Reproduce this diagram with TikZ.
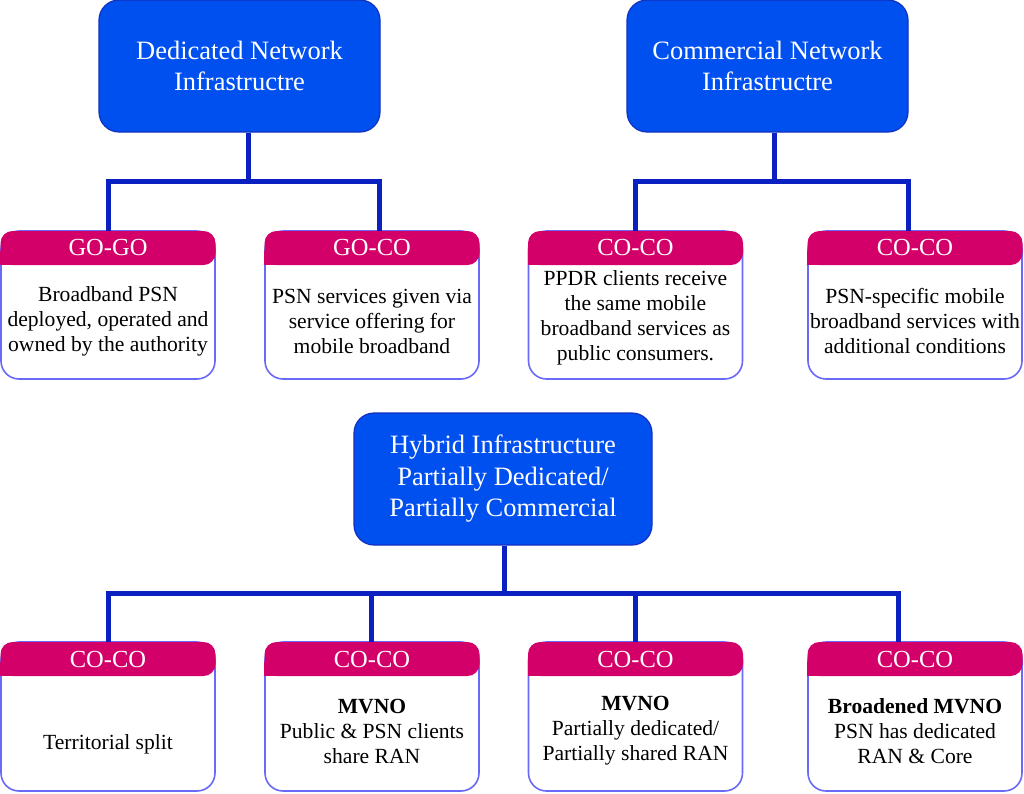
\documentclass[tikz,border=0pt]{standalone}
\usepackage{fontspec}
\setmainfont{Liberation Serif}
\definecolor{topfill}{HTML}{0050F0}
\definecolor{topdraw}{HTML}{1430C0}
\definecolor{linec}{HTML}{0A20C0}
\definecolor{tabc}{HTML}{D4006A}
\definecolor{boxdraw}{HTML}{6A6AF8}
\tikzset{
  topbox/.style={draw=topdraw, line width=1.2pt, fill=topfill, rounded corners=20pt,
    text=white, font=\fontsize{26.5}{31.5}\selectfont, align=center, inner sep=0pt,
    minimum height=132pt},
  bodybox/.style={draw=boxdraw, line width=1.6pt, fill=white, rounded corners=18pt,
    inner sep=0pt, minimum width=214pt},
  tabbox/.style={fill=tabc, rounded corners=12pt, inner sep=0pt, minimum width=215pt,
    minimum height=34pt, text=white, font=\fontsize{24.5}{28}\selectfont},
  bodytext/.style={align=center, inner sep=0pt, font=\fontsize{21.6}{25}\selectfont},
  conn/.style={draw=linec, line width=5pt, line join=miter}
}
\newcommand{\tabsq}[1]{\fill[tabc] (#1.south west) rectangle ([xshift=14pt,yshift=14pt]#1.south west);}
\begin{document}
\begin{tikzpicture}[x=1pt,y=-1pt]
\useasboundingbox (0,0) rectangle (1024,793);

% top boxes
\node[topbox, minimum width=281pt] (ded) at (239.5,66) {Dedicated Network\\Infrastructre};
\node[topbox, minimum width=281pt] (com) at (767.5,66) {Commercial Network\\Infrastructre};
\node[topbox, minimum width=298pt] (hyb) at (503,479) {Hybrid Infrastructure\\Partially Dedicated/\\Partially Commercial};

% row 1 boxes
\node[bodybox, minimum height=148pt] (b1) at (108,305) {};
\node[bodybox, minimum height=148pt] (b2) at (372,305) {};
\node[bodybox, minimum height=148pt] (b3) at (635.5,305) {};
\node[bodybox, minimum height=148pt] (b4) at (915,305) {};
\node[tabbox] (t1) at (108,248) {GO-GO};
\node[tabbox] (t2) at (372,248) {GO-CO};
\node[tabbox] (t3) at (635.5,248) {CO-CO};
\node[tabbox] (t4) at (915,248) {CO-CO};
\tabsq{t1}\tabsq{t2}\tabsq{t3}\tabsq{t4}
\node[bodytext] (x1) at (108,321) {Broadband PSN\\deployed, operated and\\owned by the authority};
\node[bodytext] (x2) at (372,321) {PSN services given via\\service offering for\\mobile broadband};
\node[bodytext] (x3) at (635.5,318) {PPDR clients receive\\the same mobile\\broadband services as\\public consumers.};
\node[bodytext] (x4) at (915,321) {PSN-specific mobile\\broadband services with\\additional conditions};

% row 2 boxes
\node[bodybox, minimum height=149pt] (c1) at (108,716.5) {};
\node[bodybox, minimum height=149pt] (c2) at (372,716.5) {};
\node[bodybox, minimum height=149pt] (c3) at (635.5,716.5) {};
\node[bodybox, minimum height=149pt] (c4) at (915,716.5) {};
\node[tabbox] (s1) at (108,659) {CO-CO};
\node[tabbox] (s2) at (372,659) {CO-CO};
\node[tabbox] (s3) at (635.5,659) {CO-CO};
\node[tabbox] (s4) at (915,659) {CO-CO};
\tabsq{s1}\tabsq{s2}\tabsq{s3}\tabsq{s4}
\node[bodytext] (y1) at (108,744) {Territorial split};
\node[bodytext] (y2) at (372,731) {\textbf{MVNO}\\Public \& PSN clients\\share RAN};
\node[bodytext] (y3) at (635.5,731) {\textbf{MVNO}\\Partially dedicated/\\Partially shared RAN};
\node[bodytext] (y4) at (915,731) {\textbf{Broadened MVNO}\\PSN has dedicated\\RAN \& Core};

% connectors, dedicated
\draw[conn] ([xshift=8.5pt]ded.south) -- ++(0,50);
\draw[conn] (t1.north) -- ++(0,-49) -| ([xshift=7pt]t2.north);
% connectors, commercial
\draw[conn] ([xshift=6.5pt]com.south) -- ++(0,50);
\draw[conn] (t3.north) -- ++(0,-49) -| ([xshift=-7pt]t4.north);
% connectors, hybrid
\draw[conn] ([xshift=1pt]hyb.south) -- ++(0,49);
\draw[conn] (s1.north) -- ++(0,-48) -| ([xshift=-17pt]s4.north);
\draw[conn] ([xshift=-1pt]s2.north) -- ++(0,-48);
\draw[conn] (s3.north) -- ++(0,-48);
\end{tikzpicture}
\end{document}
